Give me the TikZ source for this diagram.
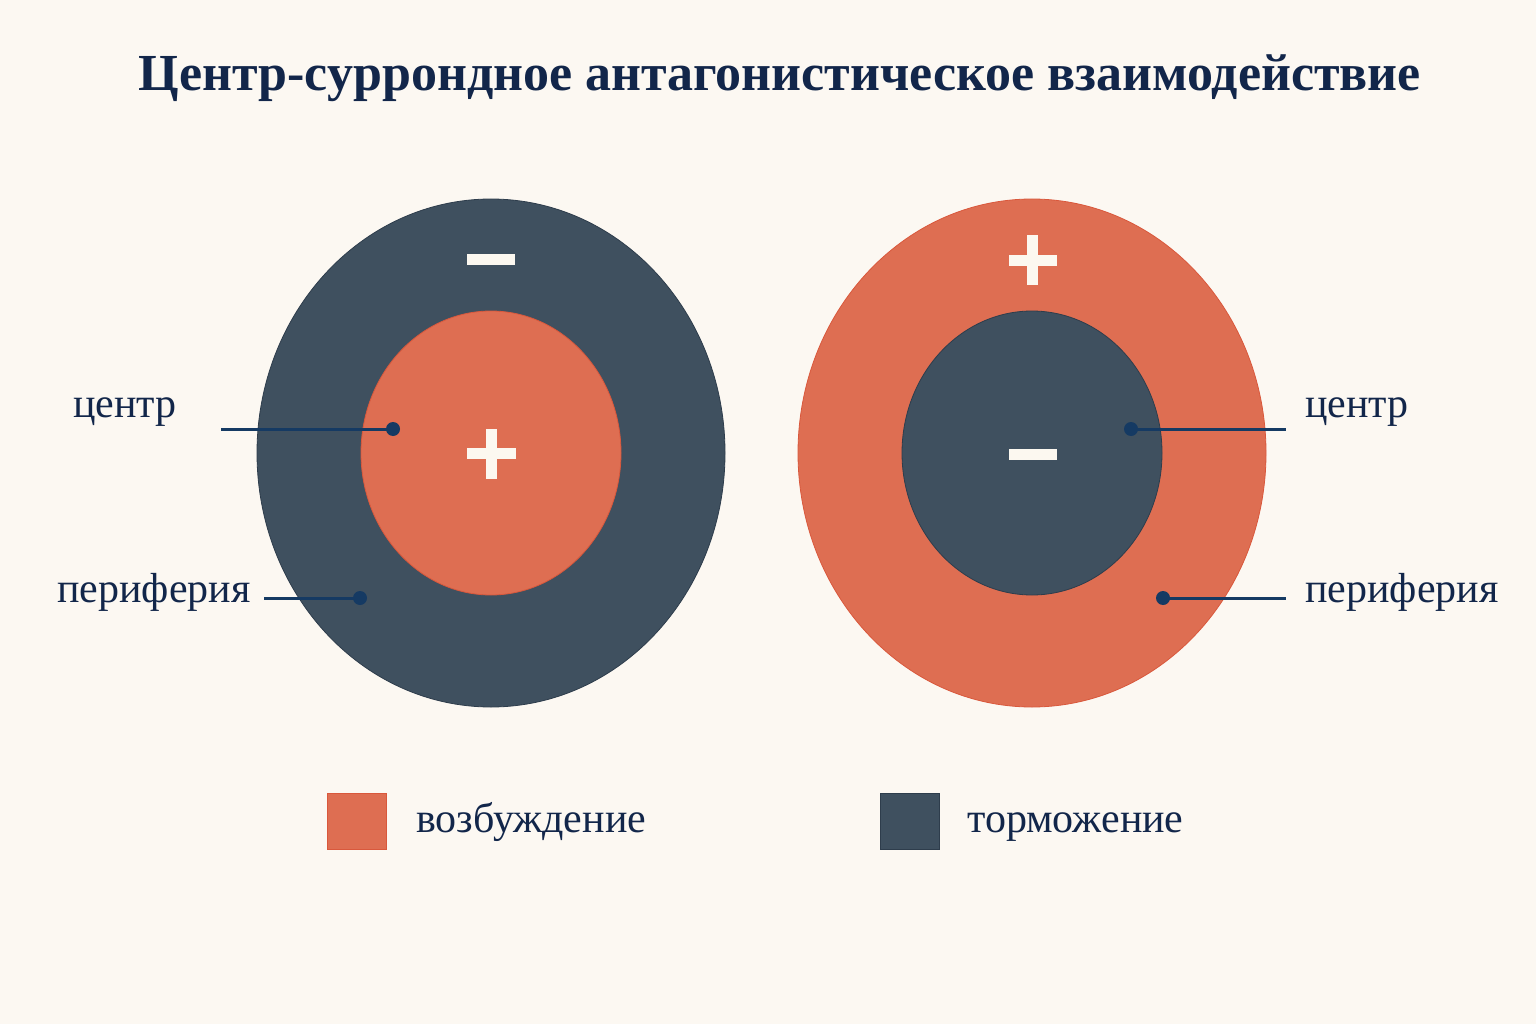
\documentclass[tikz,border=0pt]{standalone}
\usepackage{fontspec}
\setmainfont{Liberation Serif}
\usetikzlibrary{shapes.geometric}
\definecolor{bg}{HTML}{FCF8F2}
\definecolor{exc}{HTML}{DE6E52}
\definecolor{excline}{HTML}{D9583C}
\definecolor{inh}{HTML}{3F505F}
\definecolor{inhline}{HTML}{2E3D4C}
\definecolor{ink}{HTML}{12264A}
\definecolor{lead}{HTML}{153A63}
\definecolor{signc}{HTML}{FCF8F0}
\tikzset{
  excfill/.style={ellipse, fill=exc, draw=excline, line width=0.8pt, inner sep=0pt},
  inhfill/.style={ellipse, fill=inh, draw=inhline, line width=0.8pt, inner sep=0pt},
  lbl/.style={font=\fontsize{42}{50}\selectfont, text=ink, anchor=base west, inner sep=0pt},
  leadline/.style={draw=lead, line width=3pt},
  leaddot/.style={circle, fill=lead, minimum size=14pt, inner sep=0pt},
  signbar/.style={fill=signc},
  legbox/.style={rectangle, minimum width=59pt, minimum height=56pt, inner sep=0pt, line width=0.8pt}
}
\begin{document}
\begin{tikzpicture}[x=1pt,y=-1pt]
\fill[bg] (0,0) rectangle (1536,1024);
\useasboundingbox (0,0) rectangle (1536,1024);
% title
\node[font=\bfseries\fontsize{52}{60}\selectfont, text=ink, anchor=base, inner sep=0pt] (title) at (780,91) {Центр-суррондное антагонистическое взаимодействие};
% left receptive field
\node[inhfill, minimum width=468pt, minimum height=508pt] (outerL) at (491,453) {};
\node[excfill, minimum width=260pt, minimum height=284pt] (innerL) at (491,453) {};
% right receptive field
\node[excfill, minimum width=468pt, minimum height=508pt] (outerR) at (1032,453) {};
\node[inhfill, minimum width=260pt, minimum height=284pt] (innerR) at (1032,453) {};
% signs
\fill[signbar] (467,254) rectangle (515,265);
\fill[signbar] (467,448) rectangle (516,459);
\fill[signbar] (486,429) rectangle (497,479);
\fill[signbar] (1009,255) rectangle (1057,266);
\fill[signbar] (1027,235) rectangle (1038,285);
\fill[signbar] (1009,449) rectangle (1057,460);
% labels left
\node[lbl] (cL) at (73,417) {центр};
\node[lbl] (pL) at (57,602) {периферия};
\coordinate (cLs) at (221,429);
\coordinate (pLs) at (264,598);
\node[leaddot] (dcL) at (393,429) {};
\node[leaddot] (dpL) at (360,598) {};
\draw[leadline] (cLs) -- (dcL.center);
\draw[leadline] (pLs) -- (dpL.center);
% labels right
\node[lbl] (cR) at (1305,417) {центр};
\node[lbl] (pR) at (1305,602) {периферия};
\coordinate (cRe) at (1286,429);
\coordinate (pRe) at (1286,598);
\node[leaddot] (dcR) at (1131,429) {};
\node[leaddot] (dpR) at (1163,598) {};
\draw[leadline] (dcR.center) -- (cRe);
\draw[leadline] (dpR.center) -- (pRe);
% legend
\node[legbox, fill=exc, draw=excline] (legE) at (357,821) {};
\node[legbox, fill=inh, draw=inhline] (legI) at (910,821) {};
\node[lbl] (legEt) at (416,832) {возбуждение};
\node[lbl] (legIt) at (967,832) {торможение};
\end{tikzpicture}
\end{document}
